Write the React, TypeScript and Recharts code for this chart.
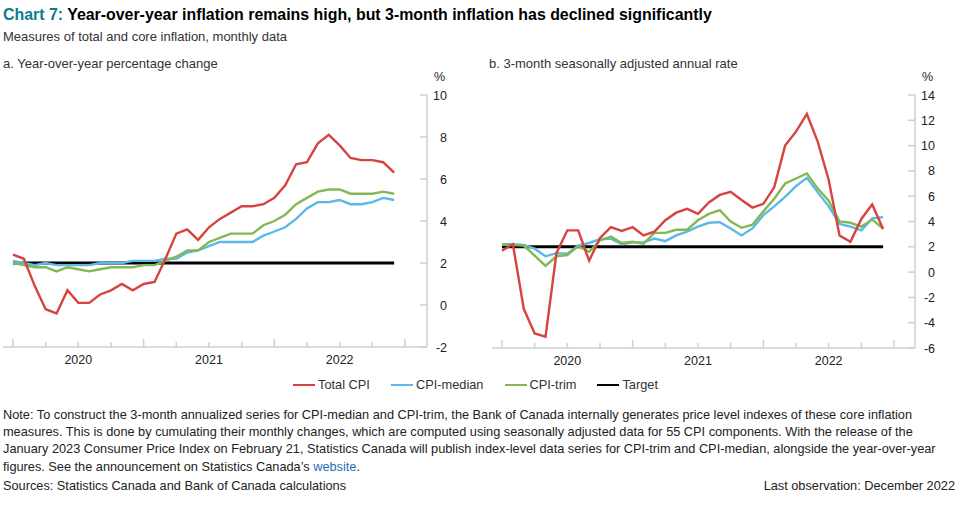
import React from 'react';
import { LineChart, Line, XAxis, YAxis } from 'recharts';

// Months Jan 2020 .. Dec 2022
const months = [
  'Jan 2020', 'Feb 2020', 'Mar 2020', 'Apr 2020', 'May 2020', 'Jun 2020',
  'Jul 2020', 'Aug 2020', 'Sep 2020', 'Oct 2020', 'Nov 2020', 'Dec 2020',
  'Jan 2021', 'Feb 2021', 'Mar 2021', 'Apr 2021', 'May 2021', 'Jun 2021',
  'Jul 2021', 'Aug 2021', 'Sep 2021', 'Oct 2021', 'Nov 2021', 'Dec 2021',
  'Jan 2022', 'Feb 2022', 'Mar 2022', 'Apr 2022', 'May 2022', 'Jun 2022',
  'Jul 2022', 'Aug 2022', 'Sep 2022', 'Oct 2022', 'Nov 2022', 'Dec 2022',
];
const yearLabels = ['2020', '2021', '2022'];
const xTicks = [0, 3, 6, 9, 12, 15, 18, 21, 24, 27, 30, 33, 36];

const targetRate = 2;

// Panel a: year-over-year percentage change
const yoyTotal = [2.4, 2.2, 0.9, -0.2, -0.4, 0.7, 0.1, 0.1, 0.5, 0.7, 1.0, 0.7,
  1.0, 1.1, 2.2, 3.4, 3.6, 3.1, 3.7, 4.1, 4.4, 4.7, 4.7, 4.8,
  5.1, 5.7, 6.7, 6.8, 7.7, 8.1, 7.6, 7.0, 6.9, 6.9, 6.8, 6.3];
const yoyMedian = [2.1, 2.0, 1.9, 2.0, 1.9, 1.9, 1.9, 1.9, 2.0, 2.0, 2.0, 2.1,
  2.1, 2.1, 2.2, 2.2, 2.5, 2.6, 2.8, 3.0, 3.0, 3.0, 3.0, 3.3,
  3.5, 3.7, 4.1, 4.6, 4.9, 4.9, 5.0, 4.8, 4.8, 4.9, 5.1, 5.0];
const yoyTrim = [2.0, 1.9, 1.8, 1.8, 1.6, 1.8, 1.7, 1.6, 1.7, 1.8, 1.8, 1.8,
  1.9, 1.9, 2.1, 2.3, 2.6, 2.6, 3.0, 3.2, 3.4, 3.4, 3.4, 3.8,
  4.0, 4.3, 4.8, 5.1, 5.4, 5.5, 5.5, 5.3, 5.3, 5.3, 5.4, 5.3];
const yoyTicks = [-2, 0, 2, 4, 6, 8, 10];

// Panel b: 3-month seasonally adjusted annual rate
const saarTotal = [1.7, 2.2, -2.9, -4.85, -5.1, 1.5, 3.3, 3.3, 0.9, 2.7, 3.55, 3.25,
  3.55, 2.9, 3.2, 4.1, 4.7, 5.0, 4.6, 5.5, 6.1, 6.35, 5.7, 5.1,
  5.4, 6.7, 10.0, 11.1, 12.5, 10.3, 7.3, 2.9, 2.4, 4.2, 5.35, 3.4];
const saarMedian = [2.2, 2.2, 2.15, 1.85, 1.25, 1.5, 1.45, 2.1, 2.3, 2.6, 2.65, 2.2,
  2.35, 2.35, 2.65, 2.45, 2.9, 3.2, 3.6, 3.9, 3.95, 3.45, 2.9, 3.45,
  4.5, 5.2, 5.95, 6.8, 7.45, 6.3, 5.2, 3.8, 3.6, 3.3, 4.25, 4.35];
const saarTrim = [2.15, 2.15, 2.1, 1.3, 0.5, 1.25, 1.35, 2.05, 1.6, 2.5, 2.8, 2.3,
  2.4, 2.25, 3.1, 3.1, 3.35, 3.35, 4.1, 4.6, 4.9, 4.0, 3.5, 3.75,
  4.8, 5.8, 7.0, 7.4, 7.8, 6.6, 5.65, 4.0, 3.9, 3.6, 4.15, 3.45];
const saarTicks = [-6, -4, -2, 0, 2, 4, 6, 8, 10, 12, 14];

const yoyData = months.map((m, i) => ({
  t: i, month: m, total: yoyTotal[i], median: yoyMedian[i], trim: yoyTrim[i], target: targetRate,
}));
const saarData = months.map((m, i) => ({
  t: i, month: m, total: saarTotal[i], median: saarMedian[i], trim: saarTrim[i], target: targetRate,
}));

const FONT = "'Liberation Sans', Arial, Helvetica, sans-serif";
const AXIS = '#cfcfcf';
const RED = '#d6443f';
const BLUE = '#5ab9e6';
const GREEN = '#83b855';
const BLACK = '#000000';
const TEAL = '#0b7d8c';
const TEXT = '#222222';

const LeftTick = (props: any) => {
  const { x, y } = props;
  return <line x1={x} x2={x + 8} y1={y} y2={y} stroke={AXIS} strokeWidth={1.5} />;
};

const RightTick = (props: any) => {
  const { x, y, payload } = props;
  return (
    <g>
      <line x1={x - 7} x2={x} y1={y} y2={y} stroke={AXIS} strokeWidth={1.5} />
      <text x={x + 20} y={y} dy={4.5} textAnchor="end" fontSize={12.5} fontFamily={FONT} fill={TEXT}>
        {payload.value}
      </text>
    </g>
  );
};

const BottomTick = (props: any) => {
  const { x, y, payload } = props;
  const v = payload.value as number;
  const major = v % 12 === 0;
  const label = v % 12 === 6 ? yearLabels[(v - 6) / 12] : null;
  return (
    <g>
      <line x1={x} x2={x} y1={y} y2={y - (major ? 8 : 5)} stroke={AXIS} strokeWidth={1.5} />
      {label && (
        <text x={x} y={y + 17} textAnchor="middle" fontSize={12.5} fontFamily={FONT} fill={TEXT}>
          {label}
        </text>
      )}
    </g>
  );
};

function Panel(props: {
  data: any[]; domain: [number, number]; ticks: number[]; width: number; height: number;
  margin: any; padRight: number;
}) {
  const { data, domain, ticks, width, height, margin, padRight } = props;
  return (
    <LineChart width={width} height={height} data={data} margin={margin}>
      <XAxis
        dataKey="t"
        type="number"
        domain={[0, 36]}
        ticks={xTicks}
        interval={0}
        padding={{ left: 10, right: padRight }}
        height={30}
        axisLine={{ stroke: AXIS, strokeWidth: 1.5 }}
        tickLine={false}
        tickSize={0}
        tickMargin={0}
        tick={<BottomTick />}
        xAxisId="x"
      />
      <YAxis
        yAxisId="left"
        orientation="left"
        type="number"
        domain={domain}
        ticks={ticks}
        interval={0}
        width={0}
        axisLine={{ stroke: AXIS, strokeWidth: 1.5 }}
        tickLine={false}
        tickSize={0}
        tickMargin={0}
        tick={<LeftTick />}
      />
      <YAxis
        yAxisId="right"
        orientation="right"
        type="number"
        domain={domain}
        ticks={ticks}
        interval={0}
        width={30}
        axisLine={{ stroke: AXIS, strokeWidth: 1.5 }}
        tickLine={false}
        tickSize={0}
        tickMargin={0}
        tick={<RightTick />}
      />
      <Line xAxisId="x" yAxisId="right" dataKey="target" stroke={BLACK} strokeWidth={3} dot={false} isAnimationActive={false} />
      <Line xAxisId="x" yAxisId="right" dataKey="median" stroke={BLUE} strokeWidth={2.4} dot={false} isAnimationActive={false} />
      <Line xAxisId="x" yAxisId="right" dataKey="trim" stroke={GREEN} strokeWidth={2.4} dot={false} isAnimationActive={false} />
      <Line xAxisId="x" yAxisId="right" dataKey="total" stroke={RED} strokeWidth={2.4} dot={false} isAnimationActive={false} />
    </LineChart>
  );
}

const legendItems = [
  { name: 'Total CPI', color: RED },
  { name: 'CPI-median', color: BLUE },
  { name: 'CPI-trim', color: GREEN },
  { name: 'Target', color: BLACK },
];

export default function App() {
  const abs = (left: number, top: number, extra: any = {}) => ({
    position: 'absolute' as const, left, top, ...extra,
  });
  return (
    <div style={{ position: 'absolute', left: 0, top: 0, width: 964, height: 505, background: '#fff', fontFamily: FONT, color: TEXT, overflow: 'hidden' }}>
      <div style={abs(3, 5, { fontSize: 15.9, fontWeight: 'bold', lineHeight: '20px', whiteSpace: 'nowrap', color: '#000' })}>
        <span style={{ color: TEAL }}>Chart 7:</span> Year-over-year inflation remains high, but 3-month inflation has declined significantly
      </div>
      <div style={abs(3, 29, { fontSize: 13, lineHeight: '16px', color: '#333' })}>
        Measures of total and core inflation, monthly data
      </div>
      <div style={abs(3, 56, { fontSize: 13, lineHeight: '16px', color: '#333' })}>
        a. Year-over-year percentage change
      </div>
      <div style={abs(489, 56, { fontSize: 13, lineHeight: '16px', color: '#333' })}>
        b. 3-month seasonally adjusted annual rate
      </div>
      <div style={abs(434, 69, { fontSize: 12.5, lineHeight: '16px' })}>%</div>
      <div style={abs(922, 69, { fontSize: 12.5, lineHeight: '16px' })}>%</div>

      <div style={abs(0, 0)}>
        <Panel data={yoyData} domain={[-2, 10]} ticks={yoyTicks} width={470} height={390}
          margin={{ top: 95, left: 3, right: 13, bottom: 13 }} padRight={22} />
      </div>
      <div style={abs(480, 0)}>
        <Panel data={saarData} domain={[-6, 14]} ticks={saarTicks} width={484} height={390}
          margin={{ top: 95, left: 12, right: 19, bottom: 12 }} padRight={21} />
      </div>

      <div style={abs(293, 377, { display: 'flex', fontSize: 12.8, lineHeight: '16px' })}>
        {legendItems.map((it, i) => (
          <div key={it.name} style={{ display: 'flex', alignItems: 'center', marginLeft: i === 0 ? 0 : 21 }}>
            <span style={{ display: 'inline-block', width: 22, height: 2, background: it.color, marginRight: 3 }} />
            <span style={{ color: '#333' }}>{it.name}</span>
          </div>
        ))}
      </div>

      <div style={abs(3, 406, { fontSize: 12.75, lineHeight: '17.2px', color: TEXT, whiteSpace: 'nowrap' })}>
        Note: To construct the 3-month annualized series for CPI-median and CPI-trim, the Bank of Canada internally generates price level indexes of these core inflation<br />
        measures. This is done by cumulating their monthly changes, which are computed using seasonally adjusted data for 55 CPI components. With the release of the<br />
        January 2023 Consumer Price Index on February 21, Statistics Canada will publish index-level data series for CPI-trim and CPI-median, alongside the year-over-year<br />
        figures. See the announcement on Statistics Canada’s <span style={{ color: '#1f6fb5' }}>website</span>.
      </div>
      <div style={abs(3, 478, { fontSize: 12.75, lineHeight: '16px', color: TEXT })}>
        Sources: Statistics Canada and Bank of Canada calculations
      </div>
      <div style={abs(0, 478, { width: 955, textAlign: 'right', fontSize: 12.75, lineHeight: '16px', color: TEXT })}>
        Last observation: December 2022
      </div>
    </div>
  );
}
